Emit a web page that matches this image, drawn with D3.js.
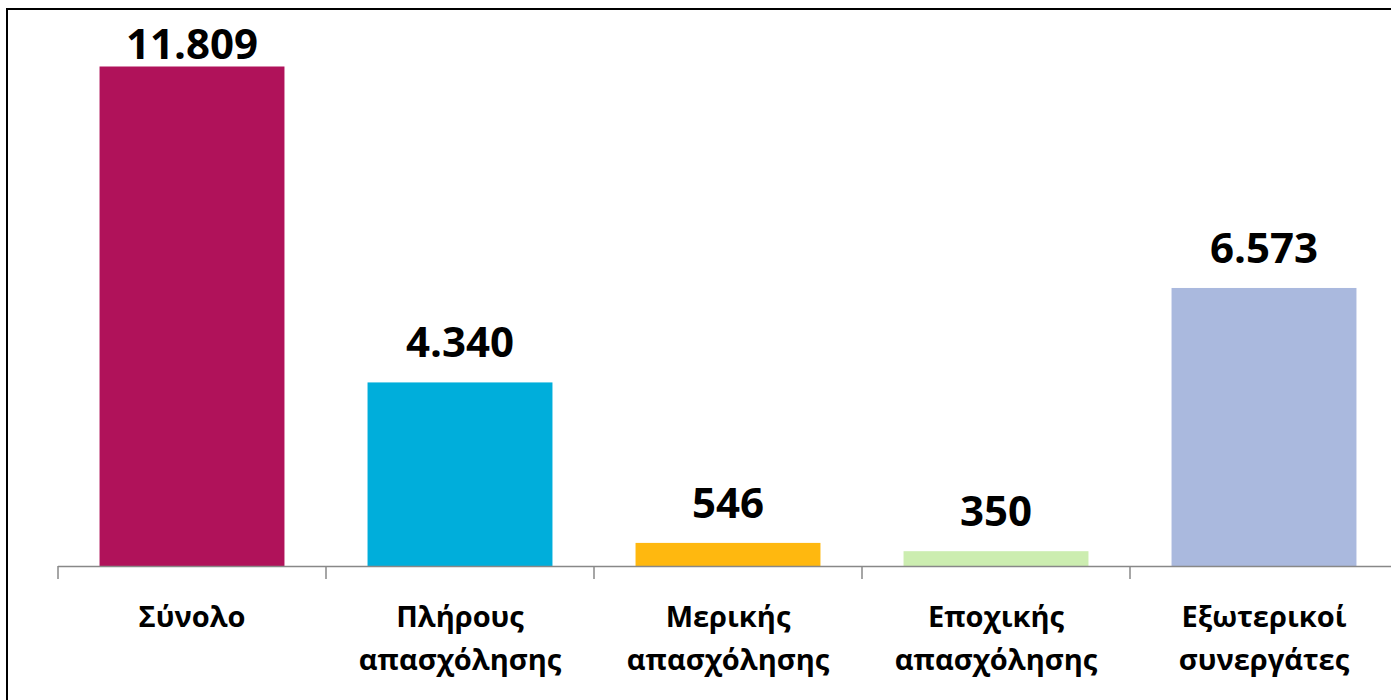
<!DOCTYPE html>
<html>
<head>
<meta charset="utf-8">
<script src="https://cdn.jsdelivr.net/npm/d3@7"></script>
<style>
  html, body { margin: 0; padding: 0; background: #fff; }
  svg { display: block; font-family: "Open Sans", sans-serif; }
</style>
</head>
<body>
<svg id="chart" width="1391" height="700"></svg>
<script>
// values
var categories = ['Σύνολο', 'Πλήρους απασχόλησης', 'Μερικής απασχόλησης', 'Εποχικής απασχόλησης', 'Εξωτερικοί συνεργάτες']
var labelLines = [['Σύνολο'], ['Πλήρους', 'απασχόλησης'], ['Μερικής', 'απασχόλησης'], ['Εποχικής', 'απασχόλησης'], ['Εξωτερικοί', 'συνεργάτες']]
var values = [11809, 4340, 546, 350, 6573]
var valueLabels = ['11.809', '4.340', '546', '350', '6.573']
var colors = ['#B0125A', '#00AEDB', '#FFB80F', '#CCEDB0', '#AAB9DE']

var svg = d3.select('#chart')

// frame
svg.append('rect')
  .attr('x', 7).attr('y', 9)
  .attr('width', 1400).attr('height', 700)
  .attr('fill', 'none')
  .attr('stroke', '#000')
  .attr('stroke-width', 2)

var x = d3.scaleBand()
  .domain(categories)
  .range([58, 1398])
  .paddingInner(0.31)
  .paddingOuter(0.155)

var y = d3.scaleLinear()
  .domain([0, 11809])
  .range([566, 66.5])

svg.selectAll('rect.bar')
  .data(values)
  .enter().append('rect')
    .attr('class', 'bar')
    .attr('x', function (d, i) { return x(categories[i]) })
    .attr('y', function (d) { return y(d) })
    .attr('width', x.bandwidth())
    .attr('height', function (d) { return y(0) - y(d) })
    .attr('fill', function (d, i) { return colors[i] })

// axis line and ticks between categories
var gap = x.step() * x.paddingInner() / 2
svg.append('line')
  .attr('x1', 58).attr('x2', 1391)
  .attr('y1', y(0) + 0.5).attr('y2', y(0) + 0.5)
  .attr('stroke', '#888').attr('stroke-width', 1.5)

svg.selectAll('line.tick')
  .data(categories)
  .enter().append('line')
    .attr('class', 'tick')
    .attr('x1', function (d) { return x(d) - gap })
    .attr('x2', function (d) { return x(d) - gap })
    .attr('y1', y(0)).attr('y2', y(0) + 13)
    .attr('stroke', '#888').attr('stroke-width', 1.5)

// value labels (kept inside the frame when the bar is tall)
svg.selectAll('text.value')
  .data(values)
  .enter().append('text')
    .attr('class', 'value')
    .attr('x', function (d, i) { return x(categories[i]) + x.bandwidth() / 2 })
    .attr('y', function (d) { return Math.max(y(d) - 25, 59) })
    .attr('text-anchor', 'middle')
    .attr('font-size', 42)
    .attr('font-weight', 'bold')
    .text(function (d, i) { return valueLabels[i] })

// category labels
var cat = svg.selectAll('text.cat')
  .data(labelLines)
  .enter().append('text')
    .attr('class', 'cat')
    .attr('text-anchor', 'middle')
    .attr('font-size', 29)
    .attr('font-weight', 'bold')

cat.selectAll('tspan')
  .data(function (d, i) { return d.map(function (s) { return { s: s, i: i } }) })
  .enter().append('tspan')
    .attr('x', function (d) { return x(categories[d.i]) + x.bandwidth() / 2 })
    .attr('y', function (d, j) { return 627 + j * 43 })
    .text(function (d) { return d.s })
</script>
</body>
</html>
